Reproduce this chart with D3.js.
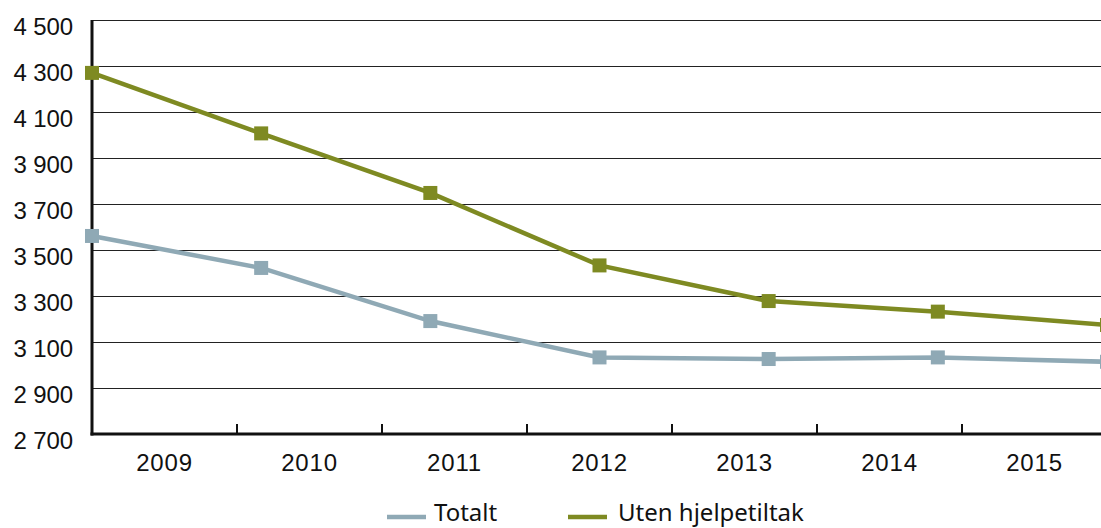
<!DOCTYPE html>
<html>
<head>
<meta charset="utf-8">
<script src="https://cdn.jsdelivr.net/npm/d3@7"></script>
<style>
  body { margin: 0; background: #fff; }
  svg { display: block; }
</style>
</head>
<body>
<div id="chart"></div>
<script>
const years = ["2009", "2010", "2011", "2012", "2013", "2014", "2015"];
const totalt = [3561, 3422, 3191, 3033, 3026, 3033, 3014];
const utenHjelpetiltak = [4270, 4007, 3748, 3433, 3278, 3232, 3174];
const yTicks = [2700, 2900, 3100, 3300, 3500, 3700, 3900, 4100, 4300, 4500];
const seriesNames = ["Totalt", "Uten hjelpetiltak"];
const seriesColors = ["#8fa9b5", "#7e8a22"];

const width = 1101, height = 528;
const plotLeft = 92, plotRight = 1107, plotTop = 20, plotBottom = 434;

const svg = d3.select('#chart').append('svg')
  .attr('width', width)
  .attr('height', height);

const x = d3.scalePoint().domain(years).range([plotLeft, plotRight]);
const xb = d3.scaleBand().domain(years).range([plotLeft, plotRight]);
const y = d3.scaleLinear().domain([2700, 4500]).range([plotBottom, plotTop]);

const fmt = d3.formatLocale({ decimal: ",", thousands: " ", grouping: [3], currency: ["", ""] }).format(",");

// gridlines
svg.selectAll('line.grid')
  .data(yTicks.filter(d => d > 2700))
  .enter().append('line')
  .attr('class', 'grid')
  .attr('x1', plotLeft).attr('x2', width)
  .attr('y1', d => Math.round(y(d)) + 0.5)
  .attr('y2', d => Math.round(y(d)) + 0.5)
  .attr('stroke', '#222')
  .attr('stroke-width', 1.2);

// y labels
svg.selectAll('text.ylab')
  .data(yTicks)
  .enter().append('text')
  .attr('class', 'ylab')
  .attr('x', 73)
  .attr('y', d => y(d) + 15)
  .attr('text-anchor', 'end')
  .attr('font-family', 'Liberation Sans, Arial, sans-serif')
  .attr('font-size', 24)
  .attr('letter-spacing', -0.1)
  .attr('fill', '#111')
  .text(d => fmt(d));

// x labels
svg.selectAll('text.xlab')
  .data(years)
  .enter().append('text')
  .attr('class', 'xlab')
  .attr('x', d => xb(d) + xb.bandwidth() / 2)
  .attr('y', 471)
  .attr('text-anchor', 'middle')
  .attr('font-family', 'Liberation Sans, Arial, sans-serif')
  .attr('font-size', 24)
  .attr('letter-spacing', 0.8)
  .attr('fill', '#111')
  .text(d => d);

// bottom ticks at band edges
svg.selectAll('line.xtick')
  .data(years.slice(1))
  .enter().append('line')
  .attr('class', 'xtick')
  .attr('x1', d => xb(d)).attr('x2', d => xb(d))
  .attr('y1', plotBottom - 10).attr('y2', plotBottom)
  .attr('stroke', '#111')
  .attr('stroke-width', 2);

// axes
svg.append('line')
  .attr('x1', plotLeft).attr('x2', plotLeft)
  .attr('y1', plotTop).attr('y2', plotBottom + 1.5)
  .attr('stroke', '#111').attr('stroke-width', 3);
svg.append('line')
  .attr('x1', plotLeft - 1.5).attr('x2', width)
  .attr('y1', plotBottom).attr('y2', plotBottom)
  .attr('stroke', '#111').attr('stroke-width', 3);

// series
const series = [totalt, utenHjelpetiltak];
const line = d3.line().x((d, i) => x(years[i])).y(d => y(d));

series.forEach((vals, s) => {
  svg.append('path')
    .datum(vals)
    .attr('d', line)
    .attr('fill', 'none')
    .attr('stroke', seriesColors[s])
    .attr('stroke-width', 4.5);
  svg.selectAll('rect.m' + s)
    .data(vals)
    .enter().append('rect')
    .attr('class', 'm' + s)
    .attr('x', (d, i) => x(years[i]) - 7)
    .attr('y', d => y(d) - 7)
    .attr('width', 14).attr('height', 14)
    .attr('fill', seriesColors[s]);
});

// legend
const legendX = [387, 568];
const leg = svg.selectAll('g.leg')
  .data(seriesNames)
  .enter().append('g')
  .attr('class', 'leg')
  .attr('transform', (d, i) => `translate(${legendX[i]},517)`);
leg.append('line')
  .attr('x1', 0).attr('x2', 39)
  .attr('y1', 0).attr('y2', 0)
  .attr('stroke', (d, i) => seriesColors[i])
  .attr('stroke-width', 4.5);
leg.append('text')
  .attr('x', (d, i) => i === 0 ? 47 : 50)
  .attr('y', 4)
  .attr('font-family', 'Noto Sans, sans-serif')
  .attr('font-size', 24)
  .attr('fill', '#111')
  .text(d => d);
</script>
</body>
</html>
